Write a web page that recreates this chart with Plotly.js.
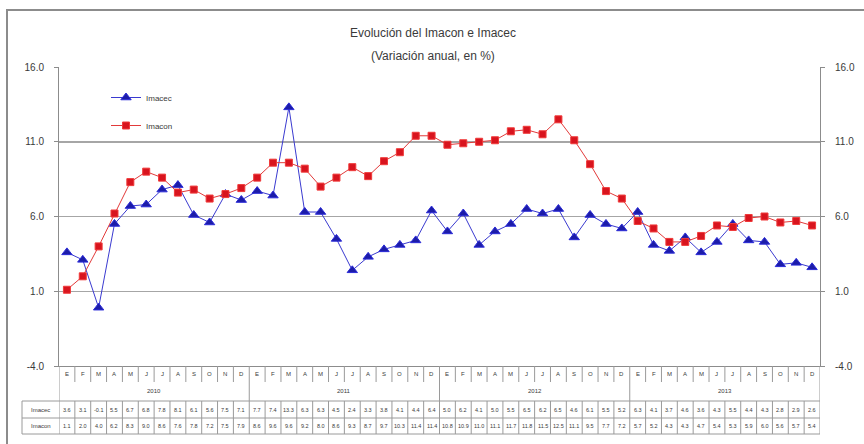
<!DOCTYPE html>
<html>
<head>
<meta charset="utf-8">
<script src="https://cdn.plot.ly/plotly-3.0.1.min.js"></script>
<style>
  html, body { margin: 0; padding: 0; background: #ffffff; }
  #chart { width: 864px; height: 444px; }
</style>
</head>
<body>
<div id="chart"></div>
<script>
// Monthly annual variation (%) of Imacec and Imacon, 2010-2013
const months = ['E', 'F', 'M', 'A', 'M', 'J', 'J', 'A', 'S', 'O', 'N', 'D'];
const years = ['2010', '2011', '2012', '2013'];

const imacec = [
  3.6, 3.1, -0.1, 5.5, 6.7, 6.8, 7.8, 8.1, 6.1, 5.6, 7.5, 7.1,
  7.7, 7.4, 13.3, 6.3, 6.3, 4.5, 2.4, 3.3, 3.8, 4.1, 4.4, 6.4,
  5.0, 6.2, 4.1, 5.0, 5.5, 6.5, 6.2, 6.5, 4.6, 6.1, 5.5, 5.2,
  6.3, 4.1, 3.7, 4.6, 3.6, 4.3, 5.5, 4.4, 4.3, 2.8, 2.9, 2.6
];
const imacon = [
  1.1, 2.0, 4.0, 6.2, 8.3, 9.0, 8.6, 7.6, 7.8, 7.2, 7.5, 7.9,
  8.6, 9.6, 9.6, 9.2, 8.0, 8.6, 9.3, 8.7, 9.7, 10.3, 11.4, 11.4,
  10.8, 10.9, 11.0, 11.1, 11.7, 11.8, 11.5, 12.5, 11.1, 9.5, 7.7, 7.2,
  5.7, 5.2, 4.3, 4.3, 4.7, 5.4, 5.3, 5.9, 6.0, 5.6, 5.7, 5.4
];

const yTicks = [-4, 1, 6, 11, 16];
const yTickText = yTicks.map(v => v.toFixed(1));

// Layout geometry
const W = 864, H = 444;
const M = { l: 59, r: 44, t: 67, b: 78 };
const plotW = W - M.l - M.r;
const plotH = H - M.t - M.b;
const bottomPx = H - M.b;
// convert a page pixel row / column into paper coordinates
const py = p => (bottomPx - p) / plotH;
const px = p => (p - M.l) / plotW;

const n = imacec.length;
const xIdx = imacec.map((_, i) => i);

const gridColor = '#a6a6a6';
const textColor = '#3a3a3a';
const fontFam = '"Liberation Sans", Arial, sans-serif';

const traces = [
  {
    x: xIdx, y: imacec, name: 'Imacec', type: 'scatter', mode: 'lines+markers',
    legendgroup: 'a',
    line: { color: '#3a3ad0', width: 1 },
    marker: { symbol: 'triangle-up', size: 9, color: '#1c1ca8', line: { color: '#2b2bd8', width: 1 } }
  },
  {
    x: xIdx, y: imacon, name: 'Imacon', type: 'scatter', mode: 'lines+markers',
    legendgroup: 'b',
    line: { color: '#e23a3a', width: 1 },
    marker: { symbol: 'square', size: 7, color: '#d8141e', line: { color: '#f03a3a', width: 1 } }
  },
  // invisible trace so the right-hand axis is drawn
  { x: [0], y: [0], yaxis: 'y2', showlegend: false, hoverinfo: 'skip', mode: 'markers', marker: { opacity: 0 } }
];

const shapes = [];
const annotations = [];
const lineStyle = { color: '#9a9a9a', width: 1 };

// text helper: always centred on its point
const label = (xref, x, y, text, size) => ({
  xref: xref, yref: 'paper', x: x, y: y, text: text, showarrow: false,
  xanchor: 'center', yanchor: 'middle',
  font: { size: size, color: textColor, family: fontFam }
});

// outer chart frame
shapes.push({ type: 'rect', xref: 'paper', yref: 'paper', x0: px(7), x1: px(880), y0: py(10), y1: py(460), line: { color: '#8c8c8c', width: 2 }, layer: 'below' });

// month row separators and year separators
for (let i = 0; i <= n; i++) {
  const isYear = i % 12 === 0;
  shapes.push({ type: 'line', xref: 'x', yref: 'paper', x0: i - 0.5, x1: i - 0.5, y0: py(bottomPx), y1: py(isYear ? 401 : 382), line: lineStyle });
}
// data table grid
[401, 418, 434].forEach(p => {
  shapes.push({ type: 'line', xref: 'paper', yref: 'paper', x0: px(22), x1: px(W - M.r), y0: py(p), y1: py(p), line: lineStyle });
});
shapes.push({ type: 'line', xref: 'paper', yref: 'paper', x0: px(22), x1: px(22), y0: py(401), y1: py(434), line: lineStyle });
for (let i = 0; i <= n; i++) {
  shapes.push({ type: 'line', xref: 'x', yref: 'paper', x0: i - 0.5, x1: i - 0.5, y0: py(401), y1: py(434), line: lineStyle });
}

// month letters
for (let i = 0; i < n; i++) {
  annotations.push(label('x', i, py(374), months[i % 12], 6));
}
// year labels
years.forEach((yr, k) => {
  annotations.push(label('x', k * 12 + 5.5, py(391), yr, 6));
});
// data table rows
const rows = [
  { name: 'Imacec', values: imacec, center: 409.5 },
  { name: 'Imacon', values: imacon, center: 426 }
];
rows.forEach(r => {
  annotations.push(label('paper', px(40.5), py(r.center), r.name, 6));
  r.values.forEach((v, i) => {
    annotations.push(label('x', i, py(r.center), v.toFixed(1), 5.5));
  });
});
// second title line
annotations.push(label('paper', px(433), py(56), '(Variación anual, en %)', 12));

const yAxisBase = {
  range: [-4, 16], tickvals: yTicks, ticktext: yTickText,
  showline: true, linecolor: '#8c8c8c', linewidth: 1,
  ticks: 'outside', ticklen: 4, tickcolor: '#8c8c8c',
  ticklabelstandoff: 8,
  tickfont: { size: 10, color: textColor, family: fontFam },
  zeroline: false, fixedrange: true
};

const layout = {
  width: W, height: H,
  margin: M,
  paper_bgcolor: '#ffffff', plot_bgcolor: '#ffffff',
  title: {
    text: 'Evolución del Imacon e Imacec',
    x: 433 / W, xanchor: 'center', xref: 'container',
    y: 1 - 33 / H, yanchor: 'middle', yref: 'container',
    font: { size: 12, color: textColor, family: fontFam }
  },
  showlegend: true,
  legend: {
    x: px(106), y: py(83), xanchor: 'left', yanchor: 'top',
    traceorder: 'grouped', tracegroupgap: 9,
    bgcolor: 'rgba(0,0,0,0)',
    font: { size: 8, color: textColor, family: fontFam },
    itemwidth: 30
  },
  xaxis: {
    range: [-0.5, n - 0.5], showticklabels: false, showgrid: false, zeroline: false,
    showline: true, linecolor: '#8c8c8c', linewidth: 1, ticks: '', fixedrange: true
  },
  yaxis: Object.assign({}, yAxisBase, { side: 'left', showgrid: true, gridcolor: gridColor, gridwidth: 1.5 }),
  yaxis2: Object.assign({}, yAxisBase, { side: 'right', overlaying: 'y', showgrid: false }),
  shapes: shapes,
  annotations: annotations
};

Plotly.newPlot('chart', traces, layout, { displayModeBar: false, staticPlot: true });
</script>
</body>
</html>
